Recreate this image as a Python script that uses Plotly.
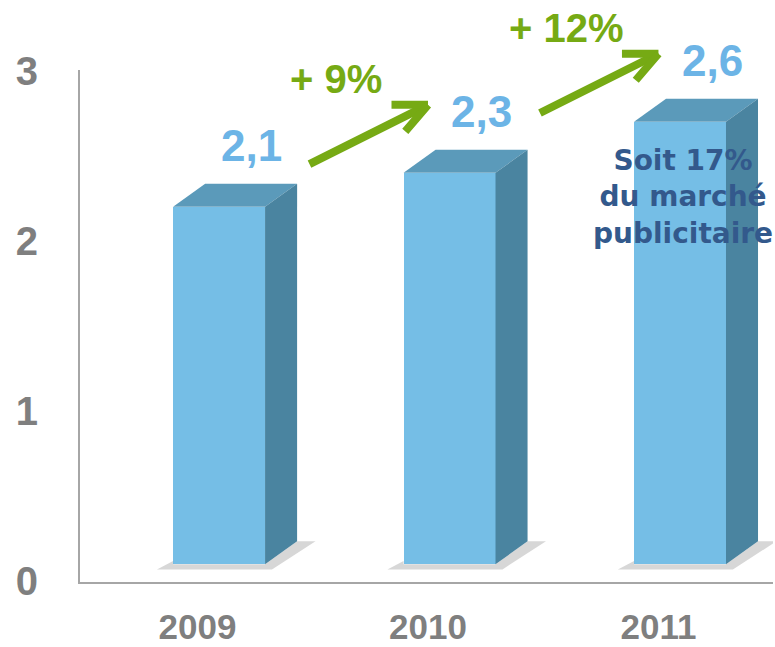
import plotly.graph_objects as go

# ---- data ----
years = ["2009", "2010", "2011"]
values = [2.1, 2.3, 2.6]
value_labels = ["2,1", "2,3", "2,6"]
growth_labels = ["+ 9%", "+ 12%"]
note_text = "Soit 17%<br>du marché<br>publicitaire"
y_ticks = [0, 1, 2, 3]

# ---- style ----
FRONT = "#75BEE6"
TOP = "#5B9ABA"
SIDE = "#4A84A0"
VAL_COL = "#6CB4E6"
GREEN = "#76AA14"
GRAY = "#7F7F7F"
AXIS = "#A6A6A6"
NOTE = "#33598C"

LIFT = 0.1        # bars float slightly above the floor
OFFSET = -0.106   # bar offset relative to category
WIDTH = 0.399     # bar width (category units)
DX = 0.139        # depth offset x (category units)
DY = 0.135        # depth offset y (value units)

xs = list(range(len(years)))

fig = go.Figure()

fig.add_trace(go.Bar(
    x=xs, y=values, base=LIFT, offset=OFFSET, width=WIDTH,
    marker=dict(color=FRONT, line=dict(width=0)),
    hoverinfo="skip", showlegend=False,
))

# soft floor shadow (outside the bar faces) and 3D faces, computed from the data
for i, v in zip(xs, values):
    x0 = i + OFFSET
    x1 = x0 + WIDTH
    bot = LIFT
    fig.add_trace(go.Scatter(
        x=[x0 - 0.07, x1 + 0.03, x1 + DX + 0.08, x1 + DX, x1, x0, x0, x0 - 0.07],
        y=[bot - 0.03, bot - 0.03, bot + DY, bot + DY, bot, bot, bot + 0.02, bot - 0.03],
        fill="toself", fillcolor="rgba(110,110,110,0.28)", mode="lines",
        line=dict(width=0, color="rgba(0,0,0,0)"), hoverinfo="skip", showlegend=False,
    ))
for i, v in zip(xs, values):
    x0 = i + OFFSET
    x1 = x0 + WIDTH
    top = LIFT + v
    bot = LIFT
    fig.add_trace(go.Scatter(
        x=[x0, x1, x1 + DX, x0 + DX, x0],
        y=[top, top, top + DY, top + DY, top],
        fill="toself", fillcolor=TOP, mode="lines",
        line=dict(width=0, color=TOP), hoverinfo="skip", showlegend=False,
    ))
    fig.add_trace(go.Scatter(
        x=[x1, x1, x1 + DX, x1 + DX, x1],
        y=[bot, top, top + DY, bot + DY, bot],
        fill="toself", fillcolor=SIDE, mode="lines",
        line=dict(width=0, color=SIDE), hoverinfo="skip", showlegend=False,
    ))

annotations = []
# value labels
for i, v, t in zip(xs, values, value_labels):
    annotations.append(dict(
        x=i + OFFSET + WIDTH / 2 + DX, y=LIFT + v, yshift=61,
        text=t, showarrow=False,
        font=dict(family="Liberation Sans, Arial", size=44, color=VAL_COL, weight="bold"),
    ))

# growth arrows (shaft + chevron wings) and labels, anchored on next bar top
for k, g in enumerate(growth_labels):
    tip_x = xs[k + 1]
    tip_y = LIFT + values[k + 1]
    for ax, ay in [(-120, 60), (-38, 0), (-24, 28)]:
        annotations.append(dict(
            x=tip_x, y=tip_y, yshift=68, ax=ax, ay=ay, axref="pixel", ayref="pixel",
            text="", showarrow=True, arrowhead=0, arrowwidth=8,
            arrowcolor=GREEN, standoff=0, startstandoff=0,
        ))
    annotations.append(dict(
        x=tip_x, y=tip_y, xshift=-92, yshift=94, text=g, showarrow=False,
        font=dict(family="Liberation Sans, Arial", size=40, color=GREEN, weight="bold"),
    ))

# note on last bar
annotations.append(dict(
    x=xs[-1] + OFFSET + WIDTH / 2 + 0.013, y=LIFT + values[-1], yshift=-75,
    text=note_text, showarrow=False, align="center", yanchor="middle",
    font=dict(family="DejaVu Sans", size=28, color=NOTE, weight="bold"),
))

fig.update_layout(
    width=775, height=647,
    margin=dict(l=80, r=2, t=70, b=65, autoexpand=False),
    paper_bgcolor="white", plot_bgcolor="white",
    bargap=0, showlegend=False,
    annotations=annotations,
    xaxis=dict(
        range=[-0.51, 2.497], tickvals=xs, ticktext=years, automargin=False,
        showline=True, linecolor=AXIS, linewidth=2, showgrid=False, zeroline=False,
        ticks="outside", ticklen=13, tickcolor="rgba(0,0,0,0)",
        tickfont=dict(family="Liberation Sans, Arial", size=35, color=GRAY, weight="bold"),
    ),
    yaxis=dict(
        range=[-0.004, 3.004], tickvals=y_ticks, ticktext=[str(t) for t in y_ticks],
        automargin=False,
        showline=True, linecolor=AXIS, linewidth=2, showgrid=False, zeroline=False,
        ticks="outside", ticklen=32, tickcolor="rgba(0,0,0,0)",
        tickfont=dict(family="Liberation Sans, Arial", size=40, color=GRAY, weight="bold"),
    ),
)

fig.write_html(
    "out.html",
    config={"displayModeBar": False},
    post_script="document.body.style.margin='0';document.body.style.overflow='hidden';",
)
